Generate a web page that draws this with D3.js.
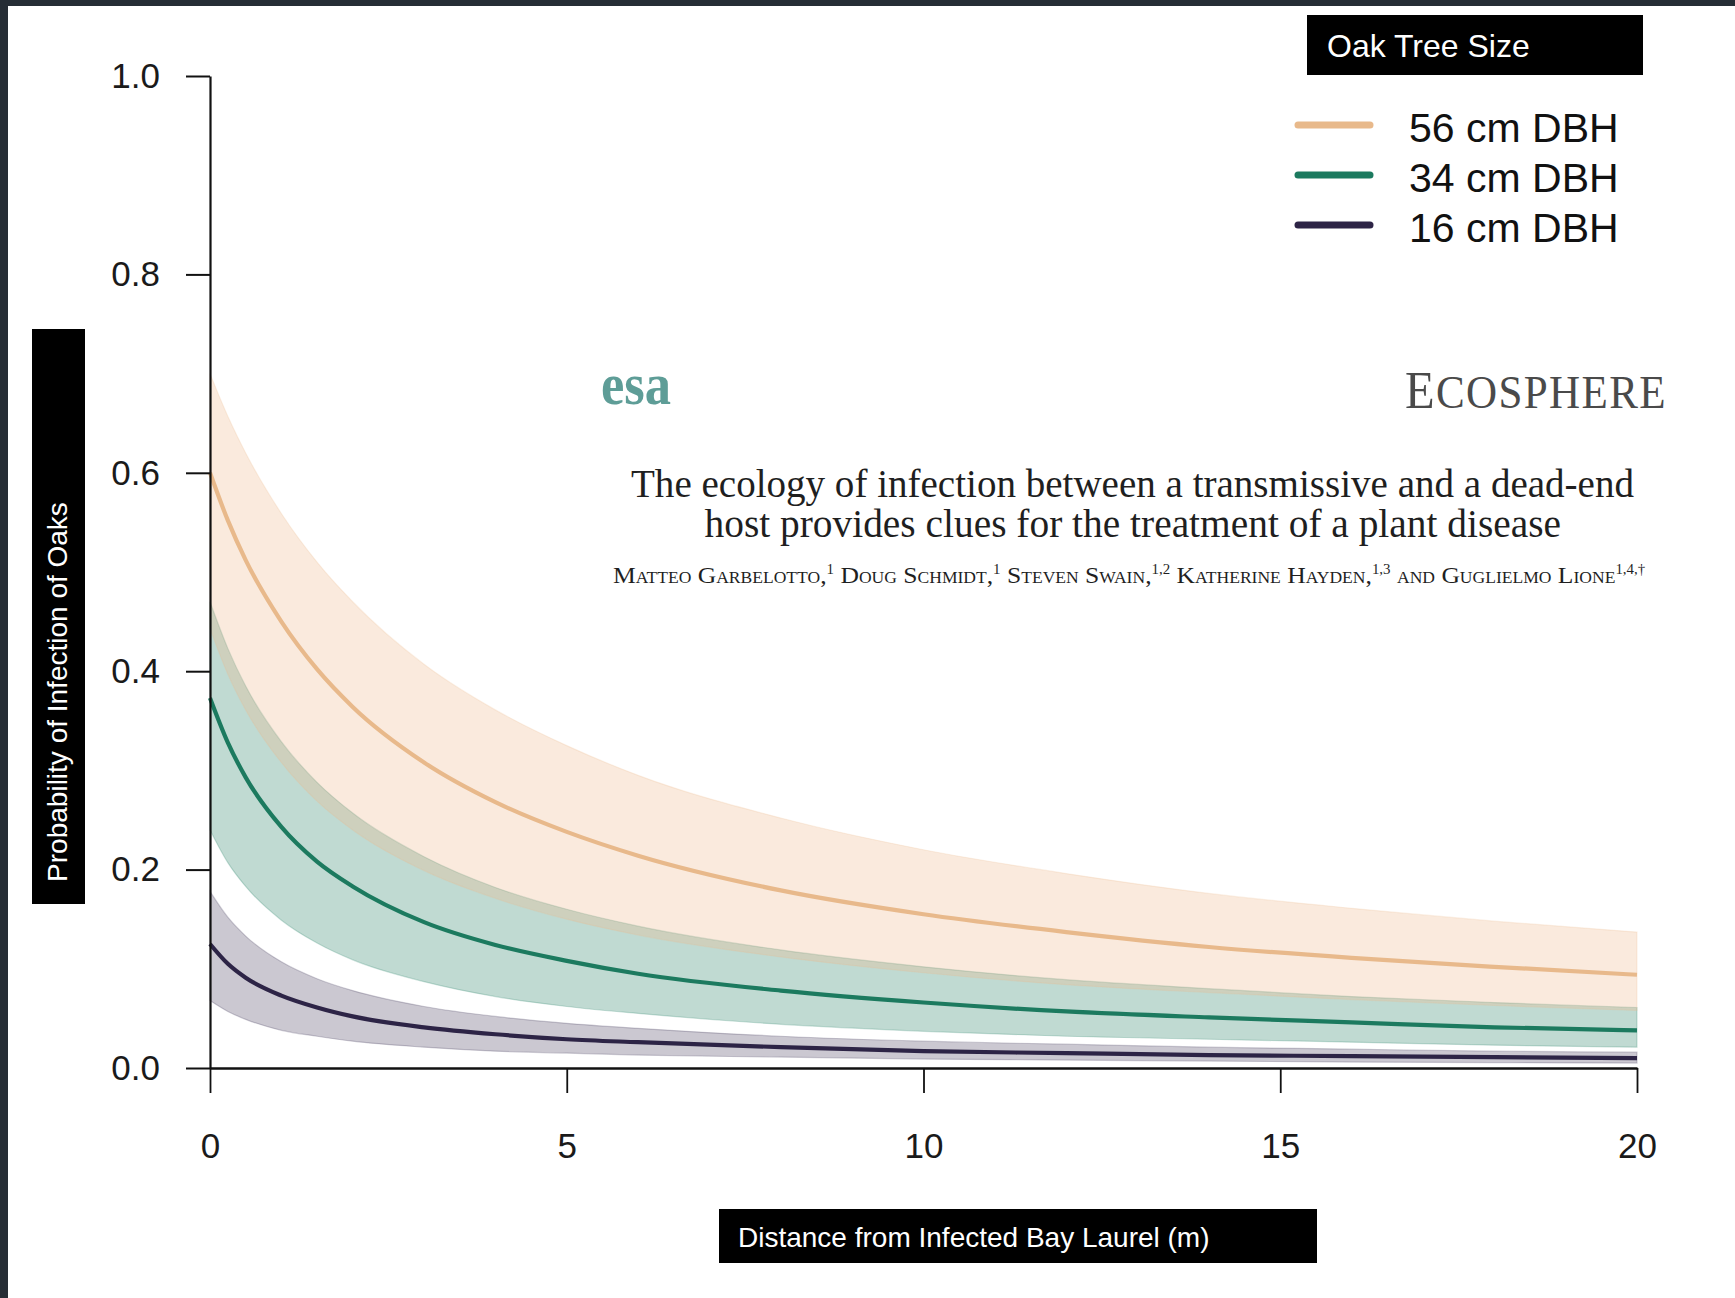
<!DOCTYPE html>
<html>
<head>
<meta charset="utf-8">
<script src="https://cdn.jsdelivr.net/npm/d3@7"></script>
<style>
  html, body { margin: 0; padding: 0; background: #ffffff; }
  svg { display: block; }
</style>
</head>
<body>
<svg id="chart" width="1735" height="1298"></svg>
<script>
// Distance from an infected bay laurel (m)
const distance = [0, 0.25, 0.5, 1, 1.5, 2, 3, 4, 5, 6, 8, 10, 12, 14, 16, 18, 20];

// Predicted probability of oak infection, with confidence band, per trunk size
const size56Mean  = [0.600, 0.552, 0.512, 0.450, 0.402, 0.364, 0.308, 0.268, 0.238, 0.214, 0.179, 0.155, 0.137, 0.122, 0.111, 0.102, 0.094];
const size56Upper = [0.700, 0.657, 0.620, 0.559, 0.510, 0.470, 0.407, 0.361, 0.325, 0.295, 0.252, 0.220, 0.196, 0.176, 0.161, 0.148, 0.137];
const size56Lower = [0.443, 0.397, 0.361, 0.308, 0.269, 0.240, 0.199, 0.171, 0.150, 0.134, 0.112, 0.096, 0.084, 0.076, 0.069, 0.063, 0.058];

const size34Mean  = [0.373, 0.328, 0.293, 0.243, 0.208, 0.183, 0.147, 0.124, 0.108, 0.095, 0.078, 0.066, 0.057, 0.051, 0.046, 0.041, 0.038];
const size34Upper = [0.470, 0.423, 0.385, 0.329, 0.288, 0.257, 0.213, 0.182, 0.160, 0.143, 0.119, 0.102, 0.089, 0.080, 0.072, 0.066, 0.061];
const size34Lower = [0.240, 0.207, 0.183, 0.149, 0.126, 0.109, 0.087, 0.072, 0.062, 0.055, 0.044, 0.037, 0.032, 0.029, 0.026, 0.023, 0.021];

const size16Mean  = [0.125, 0.105, 0.091, 0.073, 0.061, 0.052, 0.041, 0.034, 0.029, 0.026, 0.021, 0.017, 0.015, 0.013, 0.012, 0.011, 0.010];
const size16Upper = [0.178, 0.152, 0.133, 0.107, 0.090, 0.078, 0.062, 0.052, 0.045, 0.040, 0.032, 0.027, 0.024, 0.021, 0.019, 0.017, 0.016];
const size16Lower = [0.068, 0.057, 0.049, 0.038, 0.032, 0.027, 0.021, 0.017, 0.015, 0.013, 0.011, 0.009, 0.008, 0.007, 0.006, 0.0055, 0.005];

const sizeLabels = ["56 cm DBH", "34 cm DBH", "16 cm DBH"];
const xTicks = [0, 5, 10, 15, 20];
const yTicks = [0, 0.2, 0.4, 0.6, 0.8, 1.0];

const legendTitle = "Oak Tree Size";
const xTitle = "Distance from Infected Bay Laurel (m)";
const yTitle = "Probability of Infection of Oaks";

// Article header shown inside the plot
const journalMark = "esa";
const journalName = "ECOSPHERE";
const articleTitle = [
  "The ecology of infection between a transmissive and a dead-end",
  "host provides clues for the treatment of a plant disease"
];
const authorParts = [
  ["Matteo Garbelotto,", "1"],
  [" Doug Schmidt,", "1"],
  [" Steven Swain,", "1,2"],
  [" Katherine Hayden,", "1,3"],
  [" and Guglielmo Lione", "1,4,\u2020"]
];

// ---------- styles ----------
const lineColors = ["#e8b98b", "#1c7a5f", "#2d2446"];
const bandColors = ["#efb98f", "#1b7a5e", "#2e2448"];
const bandOpacity = [0.30, 0.28, 0.25];
const sansFont = "'Liberation Sans', Arial, Helvetica, sans-serif";
const serifFont = "'Liberation Serif', 'Times New Roman', serif";

const svg = d3.select("#chart");
const W = 1735, H = 1298;

svg.append("rect").attr("width", W).attr("height", H).attr("fill", "#ffffff");

const x = d3.scaleLinear().domain([0, 20]).range([210, 1637]);
const y = d3.scaleLinear().domain([0, 1]).range([1068, 76]);

const series = [
  { label: sizeLabels[0], mean: size56Mean, lo: size56Lower, hi: size56Upper },
  { label: sizeLabels[1], mean: size34Mean, lo: size34Lower, hi: size34Upper },
  { label: sizeLabels[2], mean: size16Mean, lo: size16Lower, hi: size16Upper }
];

// ---------- article header ----------
// Stretches a text group horizontally so its ink spans [left, left + width].
function fitWidth(g, left, width) {
  const b = g.node().getBBox();
  const sx = width / b.width;
  g.attr("transform", `translate(${left - b.x * sx},0) scale(${sx},1)`);
}

const header = svg.append("g").attr("class", "header");

const esa = header.append("g");
esa.append("text")
  .attr("y", 404)
  .attr("font-family", serifFont)
  .attr("font-weight", "bold")
  .attr("font-size", 60)
  .attr("fill", "#5e9d97")
  .text(journalMark);
fitWidth(esa, 601, 70);

const eco = header.append("g");
const ecoText = eco.append("text")
  .attr("y", 408)
  .attr("font-family", serifFont)
  .attr("fill", "#4a4a4a")
  .attr("letter-spacing", 1.5);
ecoText.append("tspan").attr("font-size", 53).text(journalName[0]);
ecoText.append("tspan").attr("font-size", 47).text(journalName.slice(1));
fitWidth(eco, 1405, 262);

articleTitle.forEach((line, i) => {
  const g = header.append("g");
  g.append("text")
    .attr("y", [497, 537][i])
    .attr("font-family", serifFont)
    .attr("font-size", 39)
    .attr("fill", "#1f1f1f")
    .text(line);
  const widths = [1004, 857];
  fitWidth(g, 1133 - widths[i] / 2, widths[i]);
});

const authorsG = header.append("g");
const authorsText = authorsG.append("text")
  .attr("y", 583)
  .attr("font-family", serifFont)
  .attr("font-size", 24)
  .attr("fill", "#1f1f1f");
authorParts.forEach(([name, sup], i) => {
  authorsText.append("tspan")
    .attr("font-variant", "small-caps")
    .attr("dy", i === 0 ? 0 : 9)
    .text(name);
  authorsText.append("tspan")
    .attr("font-size", 14)
    .attr("dy", -9)
    .text(sup);
});
fitWidth(authorsG, 613, 1056);

// ---------- confidence bands and fitted curves ----------
const plot = svg.append("g").attr("class", "plot");

const area = d3.area()
  .x((d, i) => x(distance[i]))
  .curve(d3.curveMonotoneX);
const line = d3.line()
  .x((d, i) => x(distance[i]))
  .curve(d3.curveMonotoneX);

// bands drawn smallest trees first so the larger sizes sit on top
[2, 1, 0].forEach(k => {
  const s = series[k];
  plot.append("path")
    .datum(s.mean)
    .attr("d", area.y0((d, i) => y(s.lo[i])).y1((d, i) => y(s.hi[i])))
    .attr("fill", bandColors[k])
    .attr("fill-opacity", bandOpacity[k])
    .attr("stroke", bandColors[k])
    .attr("stroke-opacity", 0.22)
    .attr("stroke-width", 1.2);
});

[2, 1, 0].forEach(k => {
  const s = series[k];
  plot.append("path")
    .datum(s.mean)
    .attr("d", line.y(d => y(d)))
    .attr("fill", "none")
    .attr("stroke", lineColors[k])
    .attr("stroke-width", 4.2);
});

// ---------- axes ----------
const yAxis = svg.append("g")
  .attr("transform", `translate(${x(0)},0)`)
  .call(d3.axisLeft(y).tickValues(yTicks).tickFormat(d3.format(".1f"))
    .tickSize(24).tickSizeOuter(0).tickPadding(26));
yAxis.select(".domain").attr("stroke", "#111").attr("stroke-width", 2.2);
yAxis.selectAll(".tick line").attr("stroke", "#111").attr("stroke-width", 2);
yAxis.selectAll(".tick text")
  .attr("font-family", sansFont).attr("font-size", 35).attr("fill", "#1a1a1a");

const xAxis = svg.append("g")
  .attr("transform", `translate(0,${y(0)})`)
  .call(d3.axisBottom(x).tickValues(xTicks).tickFormat(d3.format("d"))
    .tickSize(25).tickSizeOuter(0).tickPadding(40));
xAxis.select(".domain").attr("stroke", "#111").attr("stroke-width", 2.6);
xAxis.selectAll(".tick line").attr("stroke", "#111").attr("stroke-width", 1.8);
xAxis.selectAll(".tick text")
  .attr("font-family", sansFont).attr("font-size", 35).attr("fill", "#1a1a1a");

// ---------- axis titles (white on black panels) ----------
const defs = svg.append("defs");
defs.append("clipPath").attr("id", "leftStrip")
  .append("rect").attr("x", 0).attr("y", 0).attr("width", 32).attr("height", H);

// faint remains of an earlier label peeking out beside the panel
svg.append("text")
  .attr("clip-path", "url(#leftStrip)")
  .attr("transform", "translate(44,752) rotate(-90)")
  .attr("font-family", sansFont).attr("font-size", 34).attr("fill", "#b8b8b8")
  .text("Probability of Infection");

svg.append("rect").attr("x", 32).attr("y", 329).attr("width", 53).attr("height", 575).attr("fill", "#000");
svg.append("text")
  .attr("transform", "translate(67,692) rotate(-90)")
  .attr("text-anchor", "middle")
  .attr("font-family", sansFont).attr("font-size", 28).attr("fill", "#fff")
  .text(yTitle);

svg.append("rect").attr("x", 719).attr("y", 1209).attr("width", 598).attr("height", 54).attr("fill", "#000");
svg.append("text")
  .attr("x", 738).attr("y", 1247)
  .attr("font-family", sansFont).attr("font-size", 28).attr("fill", "#fff")
  .text(xTitle);

// ---------- legend ----------
svg.append("rect").attr("x", 1307).attr("y", 15).attr("width", 336).attr("height", 60).attr("fill", "#000");
svg.append("text")
  .attr("x", 1327).attr("y", 57)
  .attr("font-family", sansFont).attr("font-size", 32).attr("fill", "#fff")
  .text(legendTitle);

const legend = svg.append("g").attr("class", "legend");
series.forEach((s, k) => {
  const cy = 125 + k * 50;
  legend.append("line")
    .attr("x1", 1298).attr("x2", 1370).attr("y1", cy).attr("y2", cy)
    .attr("stroke", lineColors[k]).attr("stroke-width", 7).attr("stroke-linecap", "round");
  legend.append("text")
    .attr("x", 1409).attr("y", cy + 17)
    .attr("font-family", sansFont).attr("font-size", 41).attr("fill", "#111")
    .text(s.label);
});

// ---------- dark frame along the top and left edges ----------
svg.append("rect").attr("x", 0).attr("y", 0).attr("width", W).attr("height", 6).attr("fill", "#262d35");
svg.append("rect").attr("x", 0).attr("y", 0).attr("width", 8).attr("height", H).attr("fill", "#262d35");
</script>
</body>
</html>
